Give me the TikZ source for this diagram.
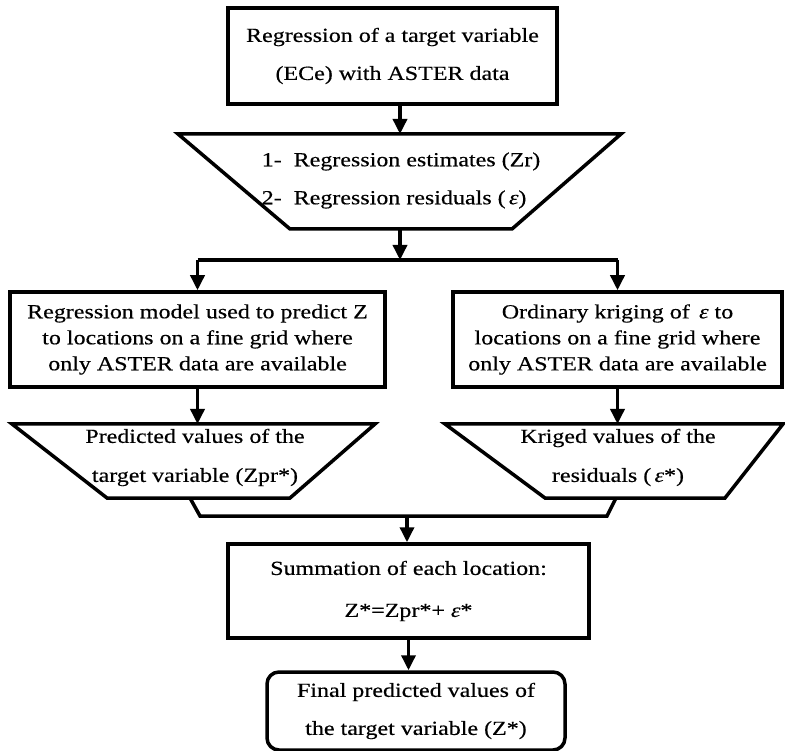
\documentclass[tikz,border=0pt]{standalone}
\usepackage{fontspec}
\setmainfont[FakeStretch=1.2, FakeBold=0.4]{Liberation Serif}
\usetikzlibrary{positioning, arrows.meta}
\tikzset{
  procbox/.style={
    draw,
    rectangle,
    line width=3.5pt,
    align=center,
    inner sep=0pt
  },
  dataline/.style={
    line width=3.5pt,
    line join=miter
  },
  dtext/.style={
    align=center,
    inner sep=0pt
  },
  arr/.style={
    line width=3.5pt,
    -{Triangle[width=14pt,length=15pt]}
  }
}

\begin{document}
\begin{tikzpicture}[x=1pt, y=-1pt, font=\fontsize{20}{38}\selectfont]
    \useasboundingbox (0,0) rectangle (785,751);

    \node[procbox, minimum width=329pt, minimum height=96pt] (regbox) at (392.5,56)
        {Regression of a target variable\\(ECe) with ASTER data};

    % estimates / residuals
    \draw[dataline] (178,134) -- (621,134) -- (512,229) -- (290,229) -- cycle;
    \coordinate (estimT) at (400,134);
    \coordinate (estimB) at (400,229);
    \node[dtext, align=left] (estim) at (401,180.5)
        {1-\ \ Regression estimates (Zr)\\2-\ \ Regression residuals (\,\textit{ε})};

    \node[procbox, minimum width=375pt, minimum height=95pt,
          font=\fontsize{20}{26}\selectfont] (model) at (197.5,339.5)
        {Regression model used to predict Z\\to locations on a fine grid where\\only ASTER data are available};
    \node[procbox, minimum width=329pt, minimum height=95pt,
          font=\fontsize{20}{26}\selectfont] (krig) at (617.5,339.5)
        {Ordinary kriging of \,\textit{ε} to\\locations on a fine grid where\\only ASTER data are available};

    % predicted values
    \draw[dataline] (12,424) -- (375,424) -- (290,498) -- (107,498) -- cycle;
    \coordinate (predB) at (190,498);
    \node[dtext, font=\fontsize{20}{39}\selectfont] (pred) at (195,457.5)
        {Predicted values of the\\target variable (Zpr*)};

    % kriged values
    \draw[dataline] (445,424) -- (783,424) -- (725,498) -- (545,498) -- cycle;
    \coordinate (kvalB) at (616,498);
    \node[dtext, font=\fontsize{20}{39}\selectfont] (kval) at (618,457.5)
        {Kriged values of the\\residuals (\,\textit{ε}*)};

    \node[procbox, minimum width=361pt, minimum height=94pt,
          font=\fontsize{20}{42}\selectfont] (sumbox) at (408.5,591)
        {Summation of each location:\\Z*=Zpr*+ \textit{ε}*};
    \node[procbox, rounded corners=12pt, minimum width=298pt, minimum height=78pt] (final) at (416,711)
        {Final predicted values of\\the target variable (Z*)};

    % split and merge points
    \coordinate (split) at (400,260);
    \coordinate (mergeL) at (200,516);
    \coordinate (mergeR) at (607,516);
    \coordinate (merge) at (407,516);

    \draw[arr] (regbox.south -| estimT) -- (estimT);
    \draw[arr] (estimB) -- (split);
    \draw[line width=3.5pt] (split -| model.north) -- (split -| krig.north);
    \draw[arr] (split -| model.north) -- (model.north);
    \draw[arr] (split -| krig.north) -- (krig.north);
    \draw[arr] (model.south) -- (model.south |- 0,424);
    \draw[arr] (krig.south) -- (krig.south |- 0,424);
    \draw[line width=3.5pt] (predB) -- (mergeL) -- (mergeR) -- (kvalB);
    \draw[arr] (merge) -- (merge |- sumbox.north);
    \draw[arr] (sumbox.south) -- (sumbox.south |- final.north);
\end{tikzpicture}
\end{document}
